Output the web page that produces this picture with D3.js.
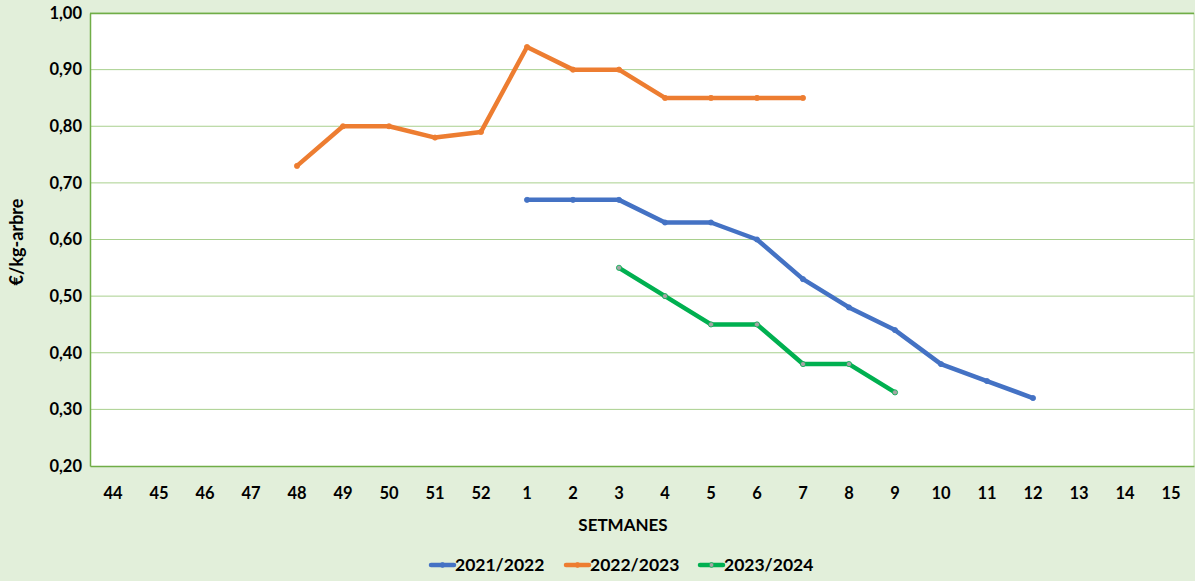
<!DOCTYPE html>
<html>
<head>
<meta charset="utf-8">
<script src="https://cdn.jsdelivr.net/npm/d3@7"></script>
<style>
  html, body { margin: 0; padding: 0; background: #E2EFDA; }
  svg { display: block; font-family: Lato, "Open Sans", sans-serif; }
</style>
</head>
<body>
<svg id="chart" width="1195" height="581"></svg>
<script>
// Week categories on the x axis (season runs from week 44 to week 15)
const weeks = ["44","45","46","47","48","49","50","51","52","1","2","3","4","5","6","7","8","9","10","11","12","13","14","15"];
const yTicks = [0.2, 0.3, 0.4, 0.5, 0.6, 0.7, 0.8, 0.9, 1.0];

// Price per season, €/kg-arbre
const weeks2122 = ["1","2","3","4","5","6","7","8","9","10","11","12"];
const values2122 = [0.67, 0.67, 0.67, 0.63, 0.63, 0.60, 0.53, 0.48, 0.44, 0.38, 0.35, 0.32];
const weeks2223 = ["48","49","50","51","52","1","2","3","4","5","6","7"];
const values2223 = [0.73, 0.80, 0.80, 0.78, 0.79, 0.94, 0.90, 0.90, 0.85, 0.85, 0.85, 0.85];
const weeks2324 = ["3","4","5","6","7","8","9"];
const values2324 = [0.55, 0.50, 0.45, 0.45, 0.38, 0.38, 0.33];

const series = [
  { name: "2021/2022", weeks: weeks2122, values: values2122, color: "#4472C4", marker: "#4472C4" },
  { name: "2022/2023", weeks: weeks2223, values: values2223, color: "#ED7D31", marker: "#ED7D31" },
  { name: "2023/2024", weeks: weeks2324, values: values2324, color: "#00B050", marker: "#A5A5A5" }
];

const svg = d3.select("#chart");
const plot = { left: 90, top: 13, right: 1194, bottom: 466 };

const x = d3.scaleBand().domain(weeks).range([plot.left, plot.right]).padding(0);
const y = d3.scaleLinear().domain([0.2, 1.0]).range([plot.bottom, plot.top]);

// plot background
svg.append("rect")
  .attr("x", plot.left).attr("y", plot.top)
  .attr("width", plot.right - plot.left).attr("height", plot.bottom - plot.top)
  .attr("fill", "#ffffff");

// horizontal gridlines
svg.append("g")
  .selectAll("line")
  .data(yTicks.slice(1))
  .join("line")
  .attr("x1", plot.left).attr("x2", plot.right)
  .attr("y1", d => y(d)).attr("y2", d => y(d))
  .attr("stroke", "#A9D08E").attr("stroke-width", 1);

// frame
svg.append("line").attr("x1", plot.right).attr("x2", plot.right)
  .attr("y1", plot.top).attr("y2", plot.bottom)
  .attr("stroke", "#C6E0B4").attr("stroke-width", 1);
svg.append("line").attr("x1", plot.left).attr("x2", plot.right)
  .attr("y1", plot.top + 0.5).attr("y2", plot.top + 0.5)
  .attr("stroke", "#70AD47").attr("stroke-width", 1.5);

// y axis
const yAxis = d3.axisLeft(y)
  .tickValues(yTicks)
  .tickFormat(d => d3.format(".2f")(d).replace(".", ","))
  .tickSize(0)
  .tickPadding(8);
const gy = svg.append("g").attr("transform", `translate(${plot.left},0)`).call(yAxis);
gy.select(".domain").attr("stroke", "#70AD47").attr("stroke-width", 1.5);
gy.selectAll("text")
  .attr("font-family", "Lato, sans-serif")
  .attr("font-size", 16.5).attr("font-weight", "bold").attr("fill", "#000");

// x axis
const xAxis = d3.axisBottom(x).tickSize(0).tickPadding(21);
const gx = svg.append("g").attr("transform", `translate(0,${plot.bottom})`).call(xAxis);
gx.select(".domain").attr("stroke", "#70AD47").attr("stroke-width", 1.5);
gx.selectAll("text")
  .attr("font-family", "Lato, sans-serif")
  .attr("font-size", 16.5).attr("font-weight", "bold").attr("fill", "#000");

// axis titles
svg.append("text")
  .attr("x", 623).attr("y", 531)
  .attr("text-anchor", "middle")
  .attr("font-size", 17).attr("font-weight", "bold")
  .text("SETMANES");
svg.append("text")
  .attr("transform", "translate(23,242) rotate(-90)")
  .attr("text-anchor", "middle")
  .attr("font-size", 18).attr("font-weight", "bold")
  .text("€/kg-arbre");

// lines
const line = d3.line()
  .x(d => x(d.week) + x.bandwidth() / 2)
  .y(d => y(d.value));

series.forEach(s => {
  const pts = s.weeks.map((w, i) => ({ week: w, value: s.values[i] }));
  svg.append("path")
    .datum(pts)
    .attr("fill", "none")
    .attr("stroke", s.color)
    .attr("stroke-width", 4.5)
    .attr("stroke-linejoin", "round")
    .attr("d", line);
  svg.append("g")
    .selectAll("circle")
    .data(pts)
    .join("circle")
    .attr("cx", d => x(d.week) + x.bandwidth() / 2)
    .attr("cy", d => y(d.value))
    .attr("r", 2.6)
    .attr("fill", s.marker)
    .attr("stroke", s.color)
    .attr("stroke-width", 0.8);
});

// legend
const legendX = [431, 566, 700];
const legend = svg.append("g");
series.forEach((s, i) => {
  const g = legend.append("g").attr("transform", `translate(${legendX[i]},565)`);
  g.append("line").attr("x1", 0).attr("x2", 23).attr("y1", 0).attr("y2", 0)
    .attr("stroke", s.color).attr("stroke-width", 4.5).attr("stroke-linecap", "round");
  g.append("circle").attr("cx", 11.5).attr("cy", 0).attr("r", 2.4)
    .attr("fill", s.marker).attr("stroke", s.color).attr("stroke-width", 0.8);
  g.append("text").attr("x", 24).attr("y", 6)
    .attr("font-size", 17.5).attr("font-weight", "bold").attr("fill", "#000")
    .text(s.name);
});
</script>
</body>
</html>
